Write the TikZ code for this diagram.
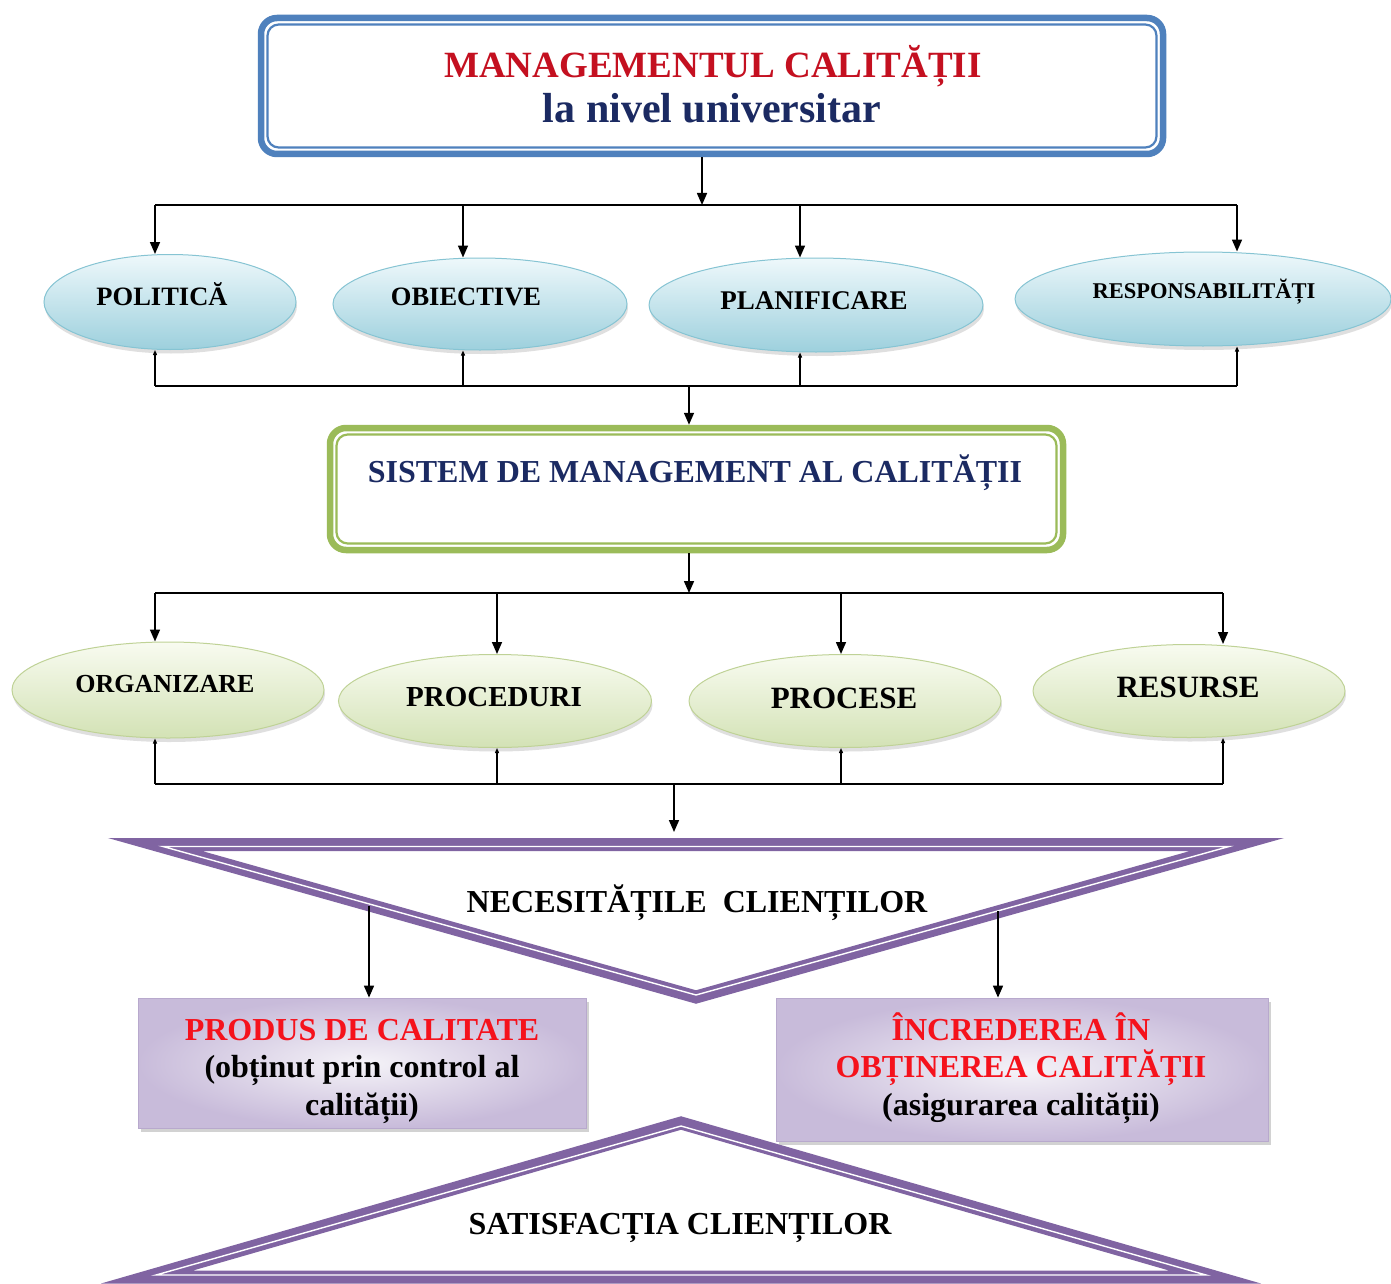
\documentclass[tikz,border=0pt]{standalone}
\usepackage{fontspec}
\setmainfont{Liberation Serif}
\usetikzlibrary{arrows.meta,shadows,shapes.geometric,calc}

\definecolor{TitleRed}{HTML}{C41020}
\definecolor{Navy}{HTML}{1B2A62}
\definecolor{BoxRed}{HTML}{F5121C}
\definecolor{FrameBlue}{HTML}{4F81BD}
\definecolor{FrameGreen}{HTML}{9BBB59}
\definecolor{Band}{HTML}{8064A2}
\definecolor{BlueTop}{HTML}{EEF8FB}
\definecolor{BlueBot}{HTML}{9DD0DD}
\definecolor{BlueEdge}{HTML}{86C4D3}
\definecolor{GreenTop}{HTML}{F8FBF0}
\definecolor{GreenBot}{HTML}{D3E2B5}
\definecolor{GreenEdge}{HTML}{BFD296}
\definecolor{BoxIn}{HTML}{F5F3F8}
\definecolor{BoxOut}{HTML}{C8BBDA}
\definecolor{BoxEdge}{HTML}{B8A9CD}

\newcommand\boldsize[1]{\fontsize{#1}{#1}\selectfont\bfseries}

\begin{document}
\begin{tikzpicture}[x=1pt,y=-1pt,
  conn/.style={line width=1.6pt},
  arr/.style={conn,-{Triangle[length=12pt,width=10pt]}},
  feed/.style={conn,{Triangle[length=5pt,width=4pt]}-},
  blueell/.style={ellipse, inner sep=0pt, draw=BlueEdge, line width=1pt,
    top color=BlueTop, bottom color=BlueBot,
    drop shadow={shadow xshift=1pt, shadow yshift=-4pt, opacity=0.25}},
  greenell/.style={ellipse, inner sep=0pt, draw=GreenEdge, line width=1pt,
    top color=GreenTop, bottom color=GreenBot,
    drop shadow={shadow xshift=1pt, shadow yshift=-4pt, opacity=0.25}},
  lbl/.style={anchor=base, inner sep=0pt, text=black},
  frame/.style={rectangle, rounded corners=16pt, line width=6.5pt, fill=white, inner sep=0pt},
  resultbox/.style={rectangle, inner sep=0pt, draw=BoxEdge, line width=0.8pt,
    inner color=BoxIn, outer color=BoxOut,
    drop shadow={shadow xshift=3pt, shadow yshift=-4pt, opacity=0.35}},
  boxtext/.style={inner sep=0pt, align=center, font=\fontsize{32}{37.5}\selectfont\bfseries},
  band/.style={line width=13pt, draw=Band, line join=miter, miter limit=12},
  gleam/.style={line width=1.4pt, draw=white, line join=miter, miter limit=12}
]
\useasboundingbox (0,0) rectangle (1391,1284);
\fill[white] (0,0) rectangle (1391,1284);

% ---------- title frame ----------
\node[frame, draw=FrameBlue, minimum width=902pt, minimum height=136pt] (title) at (712,86) {};
\draw[FrameBlue, line width=2.2pt, rounded corners=11pt]
  ($(title.north west)+(9.8,9.8)$) rectangle ($(title.south east)+(-9.8,-9.8)$);
\node[lbl, text=TitleRed, font=\boldsize{37}] (t1) at (713,78) {MANAGEMENTUL CALITĂȚII};
\node[lbl, text=Navy, font=\boldsize{42}] (t2) at (712,123) {la nivel universitar};

% ---------- first row of ellipses ----------
\node[blueell, minimum width=252pt, minimum height=95pt] (pol) at (170,302) {};
\node[blueell, minimum width=294pt, minimum height=92pt] (obi) at (480,304) {};
\node[blueell, minimum width=334pt, minimum height=94pt] (pla) at (816,305) {};
\node[blueell, minimum width=376pt, minimum height=94pt] (res) at (1203,299) {};
\node[lbl, font=\boldsize{26.5}] (polt) at (162,305) {POLITICĂ};
\node[lbl, font=\boldsize{26.5}] (obit) at (466,305) {OBIECTIVE};
\node[lbl, font=\boldsize{27}] (plat) at (814,309) {PLANIFICARE};
\node[lbl, font=\boldsize{22.5}] (rest) at (1204,298) {RESPONSABILITĂȚI};

% ---------- system frame ----------
\node[frame, draw=FrameGreen, minimum width=733pt, minimum height=122pt] (smc) at (696.5,489) {};
\draw[FrameGreen, line width=2.2pt, rounded corners=11pt]
  ($(smc.north west)+(9.8,9.8)$) rectangle ($(smc.south east)+(-9.8,-9.8)$);
\node[lbl, text=Navy, font=\boldsize{32}] (smct) at (695,482) {SISTEM DE MANAGEMENT AL CALITĂȚII};

% ---------- second row of ellipses ----------
\node[greenell, minimum width=312pt, minimum height=96pt] (org) at (168,690) {};
\node[greenell, minimum width=313pt, minimum height=93pt] (prc) at (495,701) {};
\node[greenell, minimum width=312pt, minimum height=93pt] (pcs) at (845,701) {};
\node[greenell, minimum width=312pt, minimum height=93pt] (rsr) at (1189,691) {};
\node[lbl, font=\boldsize{26}] (orgt) at (165,692) {ORGANIZARE};
\node[lbl, font=\boldsize{29}] (prct) at (494,706) {PROCEDURI};
\node[lbl, font=\boldsize{31}] (pcst) at (844,708) {PROCESE};
\node[lbl, font=\boldsize{31}] (rsrt) at (1188,697) {RESURSE};

% ---------- junction points ----------
\coordinate (b1) at (702,205);
\coordinate (b1l) at (155,205);  \coordinate (b1b) at (463,205);
\coordinate (b1c) at (800,205);  \coordinate (b1r) at (1237,205);
\coordinate (b2) at (689,386);
\coordinate (b2l) at (155,386);  \coordinate (b2b) at (463,386);
\coordinate (b2c) at (800,386);  \coordinate (b2r) at (1237,386);
\coordinate (b3) at (689,593);
\coordinate (b3l) at (155,593);  \coordinate (b3b) at (497,593);
\coordinate (b3c) at (841,593);  \coordinate (b3r) at (1223,593);
\coordinate (b4) at (674,784);
\coordinate (b4l) at (155,784);  \coordinate (b4b) at (497,784);
\coordinate (b4c) at (841,784);  \coordinate (b4r) at (1223,784);
\coordinate (vtop) at (674,832);

% ---------- connectors, top half ----------
\draw[arr] (title.south -| b1) -- (b1);
\draw[conn] (b1l) -- (b1r);
\draw[arr] (b1l) -- (b1l |- pol.north);
\draw[arr] (b1b) -- (b1b |- obi.north);
\draw[arr] (b1c) -- (b1c |- pla.north);
\draw[arr] (b1r) -- (b1r |- res.north);
\draw[feed] (pol.south -| b2l) -- (b2l);
\draw[feed] (obi.south -| b2b) -- (b2b);
\draw[feed] (pla.south -| b2c) -- (b2c);
\draw[feed] (res.south -| b2r) -- (b2r);
\draw[conn] (b2l) -- (b2r);
\draw[arr] (b2) -- (b2 |- smc.north);

\draw[arr] (smc.south -| b3) -- (b3);
\draw[conn] (b3l) -- (b3r);
\draw[arr] (b3l) -- (b3l |- org.north);
\draw[arr] (b3b) -- (b3b |- prc.north);
\draw[arr] (b3c) -- (b3c |- pcs.north);
\draw[arr] (b3r) -- (b3r |- rsr.north);
\draw[feed] (org.south -| b4l) -- (b4l);
\draw[feed] (prc.south -| b4b) -- (b4b);
\draw[feed] (pcs.south -| b4c) -- (b4c);
\draw[feed] (rsr.south -| b4r) -- (b4r);
\draw[conn] (b4l) -- (b4r);
\draw[arr] (b4) -- (vtop);

% ---------- downward triangle: needs ----------
\draw[band] (155,844.5) -- (1237,844.5) -- (696,997) -- cycle;
\draw[gleam] (163,846.5) -- (1229,846.5) -- (696,995) -- cycle;
\node[lbl, font=\boldsize{32}] (needs) at (697,912) {NECESITĂȚILE\ \ CLIENȚILOR};

% ---------- upward triangle: satisfaction ----------
\draw[band] (147,1277) -- (681,1123) -- (1215,1277) -- cycle;
\draw[gleam] (156,1275) -- (681,1126) -- (1206,1275) -- cycle;
\node[lbl, font=\boldsize{32}] (sat) at (680,1234) {SATISFACȚIA CLIENȚILOR};

% ---------- result boxes ----------
\node[resultbox, minimum width=448pt, minimum height=130pt] (prod) at (362,1063) {};
\node[boxtext] (prodt) at (362,1071)
  {\textcolor{BoxRed}{PRODUS DE CALITATE}\\(obținut prin control al\\calității)};
\node[resultbox, minimum width=492pt, minimum height=143pt] (incr) at (1022,1069.5) {};
\node[boxtext] (incrt) at (1021,1068)
  {\textcolor{BoxRed}{ÎNCREDEREA ÎN}\\\textcolor{BoxRed}{OBȚINEREA CALITĂȚII}\\(asigurarea calității)};

\coordinate (nl) at (369,906);
\coordinate (nr) at (998,911);
\draw[arr] (nl) -- (nl |- prod.north);
\draw[arr] (nr) -- (nr |- incr.north);
\end{tikzpicture}
\end{document}
